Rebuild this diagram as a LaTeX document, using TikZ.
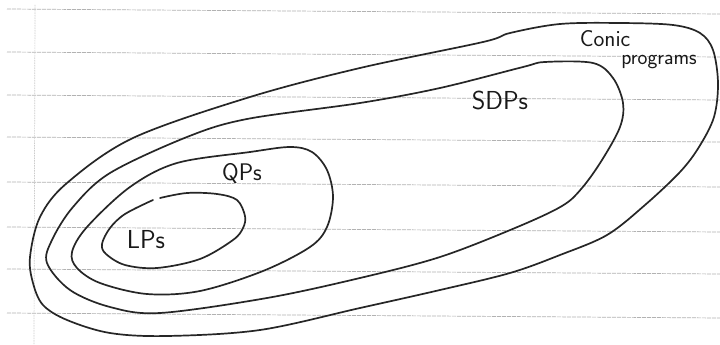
\documentclass[tikz,border=0pt]{standalone}
\begin{document}
\begin{tikzpicture}[x=1pt,y=-1pt,
  rule/.style={gray!60, line width=0.7pt, dash pattern=on 4pt off 1pt},
  marginline/.style={gray!40, line width=0.7pt, dash pattern=on 1.5pt off 1pt},
  pen/.style={black!85, line width=1.7pt, line cap=round, line join=round},
  hand/.style={text=black!90, inner sep=0pt, anchor=base}]
\useasboundingbox (0,0) rectangle (720,345);
\fill[white] (0,0) rectangle (720,345);

% ruled notebook paper
\foreach \y in {9,52,95,137,182,227,269,313}
  \draw[rule] (7,\y) -- (720,\y+5);
\draw[marginline] (35,5) -- (34,345);

% conic programs (outer region)
\draw[pen] plot[smooth cycle, tension=0.55] coordinates {
  (30,257) (40,217) (67,183) (133,138) (250,97) (360,68) (483,42)
  (510,33) (560,24) (620,23) (673,25) (700,33) (713,50) (718,83)
  (714,117) (699,147) (680,172) (645,205) (607,235) (560,255)
  (510,273) (440,290) (360,308) (260,330) (167,336) (110,333)
  (67,320) (43,305) (33,283)};

% semidefinite programs
\draw[pen] plot[smooth cycle, tension=0.55] coordinates {
  (47,263) (52,240) (73,207) (110,173) (187,137) (247,119) (360,103)
  (440,88) (523,67) (545,62) (593,63) (613,78) (623,103) (620,127)
  (602,160) (582,188) (562,206) (515,228) (440,257) (360,278)
  (267,298) (160,313) (110,307) (70,290)};

% quadratic programs
\draw[pen] plot[smooth cycle, tension=0.55] coordinates {
  (72,252) (87,227) (130,187) (177,163) (250,152) (290,147) (312,152)
  (327,170) (333,197) (327,227) (310,247) (263,271) (200,291)
  (147,294) (100,283) (77,268)};

% linear programs (pen lifted once at the top)
\draw[pen] plot[smooth, tension=0.55] coordinates {
  (160,198) (187,193) (217,194) (237,200) (245,216) (243,228)
  (233,240) (200,259) (157,268) (125,265) (106,254) (102,244)
  (110,228) (125,214) (153,200)};

% region labels
\node[hand, font=\sffamily\fontsize{26}{26}\selectfont] (lps) at (146,248) {LPs};
\node[hand, font=\sffamily\fontsize{24}{24}\selectfont] (qps) at (242,180) {QPs};
\node[hand, font=\sffamily\fontsize{26}{26}\selectfont] (sdps) at (500,110) {SDPs};
\node[hand, font=\sffamily\fontsize{23}{23}\selectfont] (conic) at (605,47) {Conic};
\node[hand, font=\sffamily\fontsize{21}{21}\selectfont] (progs) at (659,64) {programs};
\end{tikzpicture}
\end{document}
